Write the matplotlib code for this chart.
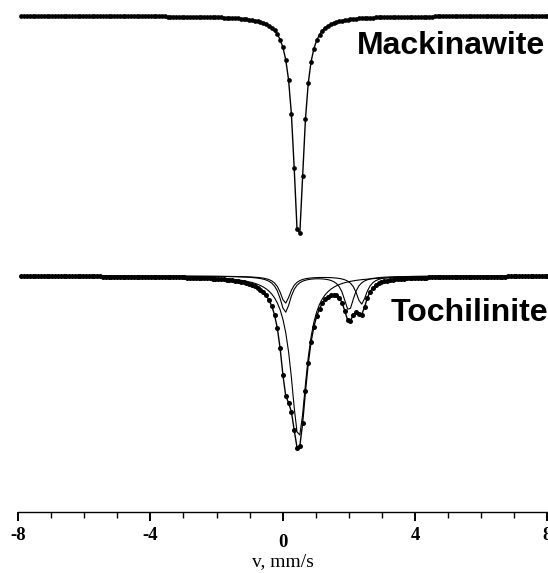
import numpy as np
import matplotlib.pyplot as plt
from matplotlib.ticker import MultipleLocator
from matplotlib.transforms import ScaledTranslation

plt.rcParams['axes.unicode_minus'] = False

# velocity channels of the spectrometer, mm/s
velocity = np.linspace(-7.9, 8.0, 188)

# Mackinawite - single line (position, width in mm/s, depth in a.u.)
mack_pos = [0.48]
mack_fwhm = [0.38]
mack_depth = [226]
mack_base = 496

# Tochilinite - singlet + two doublets
singlet_pos = [0.485]
singlet_fwhm = [0.58]
singlet_depth = [161]

doubletA_pos = [0.08, 2.38]
doubletA_fwhm = [0.38, 0.38]
doubletA_depth = [27, 28]

doubletB_pos = [0.08, 2.0]
doubletB_fwhm = [0.40, 0.38]
doubletB_depth = [36, 34]

toch_base = 236

tick_values = [-8, -4, 0, 4, 8]


def absorption(v, pos, fwhm, depth):
    # sum of lorentzian lines
    out = np.zeros_like(v)
    for p, w, d in zip(pos, fwhm, depth):
        out += d / (1 + ((v - p) / (w / 2)) ** 2)
    return out


fig = plt.figure(figsize=(5.48, 5.73), dpi=100)
ax = fig.add_axes([18 / 548, 1 - 512 / 573, (547.4 - 18) / 548, 512 / 573])

# Mackinawite
mack = mack_base - absorption(velocity, mack_pos, mack_fwhm, mack_depth)
ax.plot(velocity, mack, color='black', lw=1.0)
ax.plot(velocity, mack, 'o', color='black', ms=3.4, mec='none')

# Tochilinite
sing = absorption(velocity, singlet_pos, singlet_fwhm, singlet_depth)
dA = absorption(velocity, doubletA_pos, doubletA_fwhm, doubletA_depth)
dB = absorption(velocity, doubletB_pos, doubletB_fwhm, doubletB_depth)
toch = toch_base - (sing + dA + dB)

for comp in (sing, dA, dB):
    ax.plot(velocity, toch_base - comp, color='black', lw=0.8)
ax.plot(velocity, toch, color='black', lw=1.0)
ax.plot(velocity, toch, 'o', color='black', ms=3.6, mec='none')

ax.text(2.24, 466, 'Mackinawite', fontsize=23, fontweight='bold',
        family='Liberation Sans', va='center', ha='left')
ax.text(3.26, 199, 'Tochilinite', fontsize=23, fontweight='bold',
        family='Liberation Sans', va='center', ha='left')

# axes
ax.set_xlim(-8, 8)
ax.set_ylim(0, 512)
for s in ('left', 'right', 'top'):
    ax.spines[s].set_visible(False)
ax.spines['bottom'].set_linewidth(1.0)
ax.set_yticks([])
ax.set_xticks(tick_values)
ax.set_xticklabels([str(t) for t in tick_values])
ax.xaxis.set_minor_locator(MultipleLocator(1))
ax.tick_params(axis='x', which='major', direction='out', length=6.5, width=1.4, pad=4.5)
ax.tick_params(axis='x', which='minor', direction='out', length=4, width=1.0)
for lab in ax.get_xticklabels():
    lab.set_family('Liberation Serif')
    lab.set_fontweight('bold')
    lab.set_fontsize(13.5)
    if lab.get_text() == '0':
        # the zero label sits a little lower in the original
        lab.set_transform(lab.get_transform() + ScaledTranslation(0, -5 / 72, fig.dpi_scale_trans))

ax.set_xlabel('v, mm/s', family='Liberation Serif', fontsize=14, labelpad=1.5)
ax.patch.set_alpha(0)

fig.savefig('out.png', dpi=100)
